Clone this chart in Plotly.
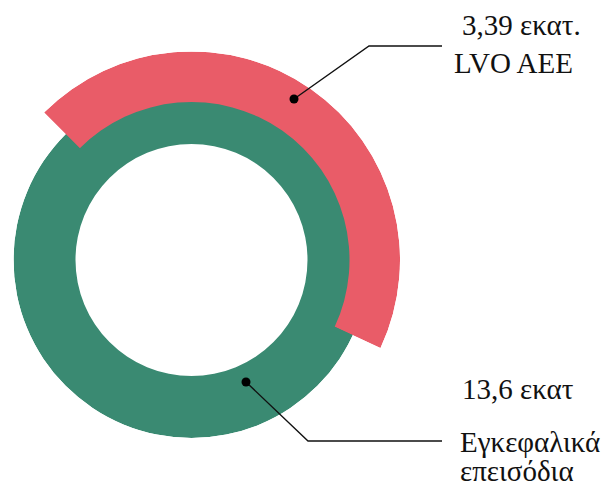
import numpy as np
import plotly.graph_objects as go

# ---------------- data ----------------
series_names = ["Εγκεφαλικά επεισόδια", "LVO AEE"]
series_values = [13.6, 3.39]          # εκατομμύρια
value_labels = ["13,6 εκατ", "3,39 εκατ."]
name_lines = [["Εγκεφαλικά", "επεισόδια"], ["LVO AEE"]]

# ---------------- style / geometry (pixels) ----------------
W, H = 613, 486
GREEN = "#3A8A72"
RED = "#E95C68"
INK = "#111111"
FONT = "Liberation Serif, serif"

CX, CY = 191.5, 260.0
G_OUT, G_IN = 178.0, 116.0
R_OUT, R_IN = 208.5, 158.0
ARC = (-25.0, 135.0)   # sector of the red arc, degrees ccw from 3 o'clock


def fx(x):
    return x / W


def fy(y):
    return 1 - y / H


def sector_bbox(a0, a1):
    angs = [a0, a1] + [a for a in range(-360, 721, 90) if a0 < a < a1]
    xs = [0.0] + [np.cos(np.radians(a)) for a in angs]
    ys = [0.0] + [np.sin(np.radians(a)) for a in angs]
    return min(xs), min(ys), max(xs), max(ys)


bx0, by0, bx1, by1 = sector_bbox(*ARC)

fig = go.Figure()

# green full ring (total strokes)
fig.add_trace(go.Barpolar(
    r=[G_OUT - G_IN], base=[G_IN], theta=[0], width=[360],
    marker=dict(color=GREEN, line=dict(width=0)),
    name=series_names[0], subplot="polar", hoverinfo="skip",
))
# red arc (LVO)
fig.add_trace(go.Barpolar(
    r=[R_OUT - R_IN], base=[R_IN], theta=[(ARC[0] + ARC[1]) / 2],
    width=[ARC[1] - ARC[0]],
    marker=dict(color=RED, line=dict(width=0)),
    name=series_names[1], subplot="polar2", hoverinfo="skip",
))

hidden_ang = dict(visible=False, rotation=0, direction="counterclockwise")
fig.update_layout(
    width=W, height=H,
    margin=dict(l=0, r=0, t=0, b=0),
    paper_bgcolor="white", plot_bgcolor="white",
    showlegend=False,
    font=dict(family=FONT),
    polar=dict(
        domain=dict(x=[fx(CX - G_OUT), fx(CX + G_OUT)],
                    y=[fy(CY + G_OUT), fy(CY - G_OUT)]),
        bgcolor="rgba(0,0,0,0)",
        radialaxis=dict(visible=False, range=[0, G_OUT]),
        angularaxis=hidden_ang,
    ),
    polar2=dict(
        domain=dict(x=[fx(CX + bx0 * R_OUT), fx(CX + bx1 * R_OUT)],
                    y=[fy(CY - by0 * R_OUT), fy(CY - by1 * R_OUT)]),
        sector=list(ARC),
        bgcolor="rgba(0,0,0,0)",
        radialaxis=dict(visible=False, range=[0, R_OUT]),
        angularaxis=hidden_ang,
    ),
)

# leader lines and dots
leaders = [
    [(294, 99), (369, 46), (442, 46)],
    [(246, 382), (308, 441), (442, 441)],
]
for pts in leaders:
    path = "M " + " L ".join(f"{fx(x)},{fy(y)}" for x, y in pts)
    fig.add_shape(type="path", path=path, xref="paper", yref="paper",
                  line=dict(color=INK, width=1.4), layer="above")
    x, y = pts[0]
    rr = 4.5
    fig.add_shape(type="circle", xref="paper", yref="paper",
                  x0=fx(x - rr), x1=fx(x + rr), y0=fy(y + rr), y1=fy(y - rr),
                  fillcolor="black", line=dict(color="black", width=0),
                  layer="above")

# text labels
texts = [
    (value_labels[1], 460, 25),
    (name_lines[1][0], 452, 62.5),
    (value_labels[0], 460, 389),
    (name_lines[0][0], 458, 441.5),
    (name_lines[0][1], 458, 471),
]
for t, x, y in texts:
    fig.add_annotation(text=t, x=fx(x), y=fy(y), xref="paper", yref="paper",
                       xanchor="left", yanchor="middle", showarrow=False,
                       font=dict(family=FONT, size=29, color=INK))

fig.write_html("out.html")
